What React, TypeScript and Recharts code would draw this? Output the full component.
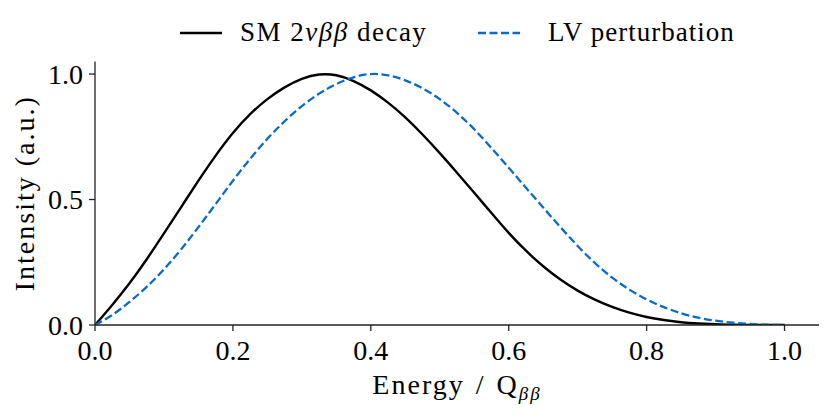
import React from "react";
import { LineChart, Line, XAxis, YAxis, Label } from "recharts";

// energy as fraction of Q_bb
const energy = [
  0, 0.025, 0.05, 0.075, 0.1, 0.125, 0.15, 0.175, 0.2, 0.225, 0.25, 0.275, 0.3,
  0.325, 0.35, 0.375, 0.4, 0.425, 0.45, 0.475, 0.5, 0.525, 0.55, 0.575, 0.6,
  0.625, 0.65, 0.675, 0.7, 0.725, 0.75, 0.775, 0.8, 0.825, 0.85, 0.875, 0.9,
  0.925, 0.95, 0.975, 1.0,
];

const smSpectrum = [
  0, 0.08, 0.166, 0.262, 0.365, 0.47, 0.575, 0.675, 0.765, 0.84, 0.9, 0.947,
  0.981, 0.998, 0.995, 0.972, 0.935, 0.886, 0.827, 0.759, 0.685, 0.607, 0.527,
  0.446, 0.367, 0.296, 0.234, 0.181, 0.137, 0.101, 0.072, 0.049, 0.032, 0.02,
  0.011, 0.006, 0.003, 0.001, 0.0005, 0, 0,
];

const lvSpectrum = [
  0, 0.04, 0.092, 0.152, 0.222, 0.302, 0.39, 0.482, 0.575, 0.662, 0.742, 0.812,
  0.872, 0.922, 0.96, 0.987, 1.0, 0.995, 0.975, 0.943, 0.9, 0.845, 0.78, 0.705,
  0.627, 0.547, 0.468, 0.39, 0.315, 0.247, 0.189, 0.141, 0.102, 0.071, 0.047,
  0.029, 0.017, 0.009, 0.004, 0.001, 0,
];

const xTicks = [0, 0.2, 0.4, 0.6, 0.8, 1.0];
const yTicks = [0, 0.5, 1.0];

const data = energy.map((x, i) => ({ x, sm: smSpectrum[i], lv: lvSpectrum[i] }));

const FONT = "'Liberation Serif', 'DejaVu Serif', serif";
const BLUE = "#0a6bc6";
const AXIS = "#222";

function XLabel(props: any) {
  const { viewBox } = props;
  const cx = viewBox.x + viewBox.width / 2;
  return (
    <text
      x={cx}
      y={394}
      textAnchor="middle"
      fontFamily={FONT}
      fontSize={28}
      letterSpacing={2}
      fill="#000"
    >
      Energy
      <tspan dx={11}>/</tspan>
      <tspan dx={11}>Q</tspan>
      <tspan dy={6} fontSize={19} fontStyle="italic">ββ</tspan>
    </text>
  );
}

function ChartLegend() {
  const text: React.CSSProperties = {
    position: "absolute",
    top: 17,
    fontFamily: FONT,
    fontSize: 27,
    color: "#000",
    whiteSpace: "nowrap",
    lineHeight: "30px",
  };
  return (
    <>
      <svg style={{ position: "absolute", left: 0, top: 0 }} width={831} height={60}>
        <line x1={180} x2={222} y1={33} y2={33} stroke="#000" strokeWidth={2.3} />
        <line x1={478} x2={520} y1={33} y2={33} stroke={BLUE} strokeWidth={2.3} strokeDasharray="8 3.5" />
      </svg>
      <div style={{ ...text, left: 240, letterSpacing: 1.5 }}>
        SM 2<i>ν</i><i>ββ</i> decay
      </div>
      <div style={{ ...text, left: 548, letterSpacing: 1 }}>LV perturbation</div>
    </>
  );
}

export default function App() {
  return (
    <div style={{ position: "absolute", left: 0, top: 0, width: 831, height: 417, background: "#fff" }}>
      <LineChart
        width={831}
        height={417}
        data={data}
        margin={{ top: 61.5, right: 12, left: 0, bottom: 0 }}
      >
        <XAxis
          dataKey="x"
          type="number"
          domain={[0, 1.05]}
          ticks={xTicks}
          tickFormatter={(v: number) => v.toFixed(1)}
          height={92}
          tickSize={6}
          tickMargin={9}
          stroke={AXIS}
          strokeWidth={1.3}
          tick={{ fontFamily: FONT, fontSize: 28, fill: "#000" }}
          allowDataOverflow
        >
          <Label content={<XLabel />} />
        </XAxis>
        <YAxis
          type="number"
          domain={[0, 1.05]}
          ticks={yTicks}
          tickFormatter={(v: number) => v.toFixed(1)}
          width={95}
          tickSize={6}
          tickMargin={6}
          stroke={AXIS}
          strokeWidth={1.3}
          tick={{ fontFamily: FONT, fontSize: 28, fill: "#000" }}
          allowDataOverflow
        >
          <Label
            value="Intensity (a.u.)"
            angle={-90}
            position="center"
            dx={-23.5}
            style={{ fontFamily: FONT, fontSize: 28, fill: "#000", textAnchor: "middle", letterSpacing: 2 }}
          />
        </YAxis>
        <Line
          type="natural"
          dataKey="sm"
          stroke="#000"
          strokeWidth={2.4}
          dot={false}
          isAnimationActive={false}
        />
        <Line
          type="natural"
          dataKey="lv"
          stroke={BLUE}
          strokeWidth={2.3}
          strokeDasharray="8 3.5"
          dot={false}
          isAnimationActive={false}
        />
      </LineChart>
      <ChartLegend />
    </div>
  );
}
